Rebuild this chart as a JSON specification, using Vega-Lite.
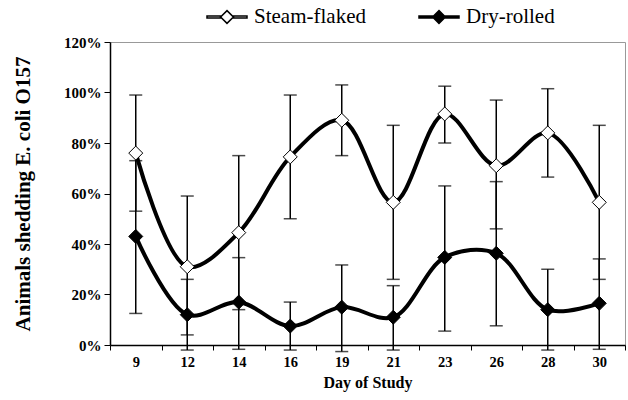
{
  "$schema": "https://vega.github.io/schema/vega-lite/v6.json",
  "width": 515,
  "height": 303,
  "autosize": "none",
  "padding": {"left": 110, "top": 42, "right": 3, "bottom": 55},
  "background": "white",
  "config": {
    "font": "Liberation Serif",
    "view": {"stroke": "#999999", "strokeWidth": 1},
    "axis": {"labelFont": "Liberation Serif", "titleFont": "Liberation Serif", "labelColor": "black", "titleColor": "black", "domainColor": "black", "tickColor": "black", "grid": false},
    "legend": {"labelFont": "Liberation Serif", "titleFont": "Liberation Serif"}
  },
  "data": {
    "values": [
      {"day": 9, "series": "Steam-flaked", "value": 0.76, "lo": 0.53, "hi": 0.99},
      {"day": 12, "series": "Steam-flaked", "value": 0.31, "lo": 0.04, "hi": 0.59},
      {"day": 14, "series": "Steam-flaked", "value": 0.445, "lo": 0.14, "hi": 0.75},
      {"day": 16, "series": "Steam-flaked", "value": 0.745, "lo": 0.50, "hi": 0.99},
      {"day": 19, "series": "Steam-flaked", "value": 0.89, "lo": 0.75, "hi": 1.03},
      {"day": 21, "series": "Steam-flaked", "value": 0.565, "lo": 0.26, "hi": 0.87},
      {"day": 23, "series": "Steam-flaked", "value": 0.915, "lo": 0.80, "hi": 1.025},
      {"day": 26, "series": "Steam-flaked", "value": 0.71, "lo": 0.46, "hi": 0.97},
      {"day": 28, "series": "Steam-flaked", "value": 0.84, "lo": 0.665, "hi": 1.015},
      {"day": 30, "series": "Steam-flaked", "value": 0.565, "lo": 0.26, "hi": 0.87},
      {"day": 9, "series": "Dry-rolled", "value": 0.43, "lo": 0.125, "hi": 0.73},
      {"day": 12, "series": "Dry-rolled", "value": 0.12, "lo": -0.02, "hi": 0.26},
      {"day": 14, "series": "Dry-rolled", "value": 0.17, "lo": -0.017, "hi": 0.346},
      {"day": 16, "series": "Dry-rolled", "value": 0.075, "lo": -0.02, "hi": 0.17},
      {"day": 19, "series": "Dry-rolled", "value": 0.15, "lo": -0.026, "hi": 0.317},
      {"day": 21, "series": "Dry-rolled", "value": 0.11, "lo": -0.02, "hi": 0.235},
      {"day": 23, "series": "Dry-rolled", "value": 0.347, "lo": 0.055, "hi": 0.63},
      {"day": 26, "series": "Dry-rolled", "value": 0.363, "lo": 0.076, "hi": 0.647},
      {"day": 28, "series": "Dry-rolled", "value": 0.14, "lo": -0.02, "hi": 0.30},
      {"day": 30, "series": "Dry-rolled", "value": 0.165, "lo": -0.017, "hi": 0.341}
    ]
  },
  "encoding": {
    "x": {
      "field": "day", "type": "ordinal",
      "scale": {"paddingInner": 0, "paddingOuter": 0},
      "axis": {"title": "Day of Study", "labelAngle": 0, "labelFontSize": 14.5, "labelFontWeight": "bold", "titleFontSize": 16, "titleFontWeight": "bold", "tickBand": "extent", "tickSize": 5, "labelPadding": 5, "titlePadding": 6, "domainWidth": 1.5}
    }
  },
  "layer": [
    {
      "mark": {"type": "rule", "color": "black", "strokeWidth": 1.5},
      "encoding": {
        "y": {"field": "lo", "type": "quantitative", "scale": {"domain": [0, 1.2], "nice": false},
          "axis": {"title": "Animals shedding E. coli O157", "format": ".0%", "values": [0, 0.2, 0.4, 0.6, 0.8, 1.0, 1.2], "labelFontSize": 15, "labelFontWeight": "bold", "titleFontSize": 21, "titleFontWeight": "bold", "tickSize": 6, "labelPadding": 3, "titlePadding": 30, "domainWidth": 1.5}},
        "y2": {"field": "hi"}
      }
    },
    {
      "mark": {"type": "tick", "color": "black", "size": 13, "thickness": 1.5},
      "encoding": {"y": {"field": "hi", "type": "quantitative"}}
    },
    {
      "mark": {"type": "tick", "color": "black", "size": 13, "thickness": 1.5},
      "encoding": {"y": {"field": "lo", "type": "quantitative"}}
    },
    {
      "mark": {"type": "line", "color": "black", "strokeWidth": 4, "interpolate": "catmull-rom"},
      "encoding": {
        "y": {"field": "value", "type": "quantitative"},
        "detail": {"field": "series"}
      }
    },
    {
      "mark": {"type": "point", "shape": "diamond", "filled": true, "size": 196, "stroke": "black", "strokeWidth": 1, "opacity": 1},
      "encoding": {
        "y": {"field": "value", "type": "quantitative"},
        "fill": {
          "field": "series", "type": "nominal",
          "scale": {"domain": ["Steam-flaked", "Dry-rolled"], "range": ["white", "black"]},
          "legend": {
            "title": null, "orient": "none", "direction": "horizontal", "legendX": 96, "legendY": -46,
            "labelFont": "Liberation Serif", "labelFontSize": 21, "labelColor": "black",
            "symbolType": "M-1,-0.05L-0.32,-0.05L-0.32,0.05L-1,0.05Z M0.32,-0.05L1,-0.05L1,0.05L0.32,0.05Z M0,-0.32L0.32,0L0,0.32L-0.32,0Z",
            "symbolSize": 1600, "symbolStrokeColor": "black", "symbolStrokeWidth": 1.5, "symbolOpacity": 1,
            "columnPadding": 50, "labelOffset": 6
          }
        }
      }
    }
  ]
}
